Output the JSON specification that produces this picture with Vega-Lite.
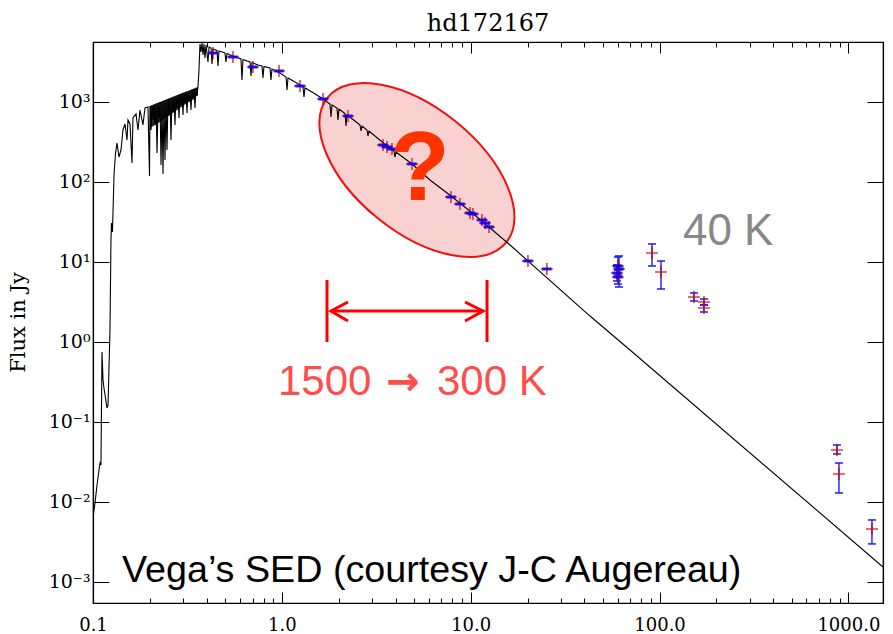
{
  "$schema": "https://vega.github.io/schema/vega-lite/v6.json",
  "width": 790,
  "height": 561,
  "autosize": {"type": "none"},
  "padding": {"left": 93, "top": 42, "right": 10, "bottom": 31},
  "background": "white",
  "config": {
    "view": {"stroke": "black", "strokeWidth": 1.2},
    "axis": {"grid": false, "domainColor": "black", "tickColor": "black", "labelColor": "black", "domainWidth": 1.2, "tickWidth": 1}
  },
  "title": {"text": "hd172167", "font": "DejaVu Serif", "fontSize": 24, "fontWeight": "normal", "anchor": "middle", "baseline": "alphabetic", "offset": 12, "dy": 25, "frame": "group", "color": "black"},
  "resolve": {"axis": {"x": "independent", "y": "independent"}},
  "datasets": {
    "spec": [
      {"wl": 0.1, "flux": 0.0065}, {"wl": 0.1025, "flux": 0.0097}, {"wl": 0.105, "flux": 0.0163}, {"wl": 0.1089, "flux": 0.0307},
      {"wl": 0.1102, "flux": 0.029}, {"wl": 0.1116, "flux": 0.75}, {"wl": 0.113, "flux": 0.335}, {"wl": 0.1143, "flux": 0.266},
      {"wl": 0.1186, "flux": 0.15}, {"wl": 0.1201, "flux": 0.163}, {"wl": 0.123, "flux": 1.41}, {"wl": 0.1245, "flux": 18.8},
      {"wl": 0.1253, "flux": 30.7}, {"wl": 0.1268, "flux": 23.7}, {"wl": 0.1292, "flux": 122}, {"wl": 0.1316, "flux": 230},
      {"wl": 0.134, "flux": 307}, {"wl": 0.1373, "flux": 205}, {"wl": 0.1407, "flux": 251}, {"wl": 0.1441, "flux": 447},
      {"wl": 0.1477, "flux": 531}, {"wl": 0.1514, "flux": 335}, {"wl": 0.1532, "flux": 596}, {"wl": 0.157, "flux": 531},
      {"wl": 0.1609, "flux": 173}, {"wl": 0.1628, "flux": 631}, {"wl": 0.169, "flux": 708}, {"wl": 0.1731, "flux": 447},
      {"wl": 0.1774, "flux": 794}, {"wl": 0.1839, "flux": 516}, {"wl": 0.1885, "flux": 841}, {"wl": 0.1955, "flux": 866},
      {"wl": 0.1992, "flux": 119}, {"wl": 0.2003, "flux": 891}, {"wl": 0.2028, "flux": 447}, {"wl": 0.2053, "flux": 912},
      {"wl": 0.2078, "flux": 596}, {"wl": 0.2104, "flux": 933}, {"wl": 0.213, "flux": 516}, {"wl": 0.2157, "flux": 955},
      {"wl": 0.2183, "flux": 230}, {"wl": 0.221, "flux": 977}, {"wl": 0.2237, "flux": 631}, {"wl": 0.2264, "flux": 1000},
      {"wl": 0.2292, "flux": 163}, {"wl": 0.232, "flux": 1023}, {"wl": 0.2348, "flux": 126}, {"wl": 0.2376, "flux": 1044},
      {"wl": 0.2406, "flux": 188}, {"wl": 0.2435, "flux": 1069}, {"wl": 0.2465, "flux": 251}, {"wl": 0.2495, "flux": 1094},
      {"wl": 0.2526, "flux": 688}, {"wl": 0.2557, "flux": 1119}, {"wl": 0.2588, "flux": 335}, {"wl": 0.262, "flux": 1145},
      {"wl": 0.2652, "flux": 750}, {"wl": 0.2685, "flux": 1172}, {"wl": 0.2717, "flux": 516}, {"wl": 0.2751, "flux": 1199},
      {"wl": 0.2784, "flux": 841}, {"wl": 0.2819, "flux": 1227}, {"wl": 0.2853, "flux": 631}, {"wl": 0.2888, "flux": 1256},
      {"wl": 0.2924, "flux": 918}, {"wl": 0.296, "flux": 1285}, {"wl": 0.2996, "flux": 688}, {"wl": 0.3032, "flux": 1315},
      {"wl": 0.307, "flux": 972}, {"wl": 0.3107, "flux": 1346}, {"wl": 0.3146, "flux": 729}, {"wl": 0.3184, "flux": 1372},
      {"wl": 0.3223, "flux": 1000}, {"wl": 0.3262, "flux": 1404}, {"wl": 0.3302, "flux": 794}, {"wl": 0.3343, "flux": 1437},
      {"wl": 0.3384, "flux": 1059}, {"wl": 0.3425, "flux": 1471}, {"wl": 0.3467, "flux": 841}, {"wl": 0.351, "flux": 1505},
      {"wl": 0.3553, "flux": 1189}, {"wl": 0.3597, "flux": 1540}, {"wl": 0.3641, "flux": 2512}, {"wl": 0.3686, "flux": 5309},
      {"wl": 0.373, "flux": 4217}, {"wl": 0.3777, "flux": 5464}, {"wl": 0.3823, "flux": 3868}, {"wl": 0.387, "flux": 5309},
      {"wl": 0.3918, "flux": 3548}, {"wl": 0.3966, "flux": 5158}, {"wl": 0.4064, "flux": 3162}, {"wl": 0.4114, "flux": 4870},
      {"wl": 0.4216, "flux": 4732}, {"wl": 0.4268, "flux": 2985}, {"wl": 0.4318, "flux": 4597}, {"wl": 0.4534, "flux": 4404},
      {"wl": 0.459, "flux": 2818}, {"wl": 0.4646, "flux": 4340}, {"wl": 0.4999, "flux": 4097}, {"wl": 0.5061, "flux": 3162},
      {"wl": 0.5123, "flux": 4038}, {"wl": 0.551, "flux": 3758}, {"wl": 0.6075, "flux": 3447}, {"wl": 0.615, "flux": 1884},
      {"wl": 0.6225, "flux": 3399}, {"wl": 0.6783, "flux": 3162}, {"wl": 0.6866, "flux": 2113}, {"wl": 0.6949, "flux": 3117},
      {"wl": 0.7475, "flux": 2901}, {"wl": 0.7848, "flux": 2818}, {"wl": 0.7945, "flux": 1995}, {"wl": 0.804, "flux": 2778},
      {"wl": 0.8653, "flux": 2661}, {"wl": 0.8759, "flux": 1884}, {"wl": 0.8866, "flux": 2585}, {"wl": 0.9775, "flux": 2304},
      {"wl": 1.052, "flux": 2054}, {"wl": 1.065, "flux": 1413}, {"wl": 1.078, "flux": 1995}, {"wl": 1.174, "flux": 1778},
      {"wl": 1.248, "flux": 1632}, {"wl": 1.294, "flux": 1540}, {"wl": 1.31, "flux": 1155}, {"wl": 1.326, "flux": 1496},
      {"wl": 1.444, "flux": 1334}, {"wl": 1.592, "flux": 1155}, {"wl": 1.652, "flux": 1090}, {"wl": 1.798, "flux": 944},
      {"wl": 1.82, "flux": 649}, {"wl": 1.843, "flux": 918}, {"wl": 1.959, "flux": 841}, {"wl": 1.983, "flux": 596},
      {"wl": 2.007, "flux": 817}, {"wl": 2.16, "flux": 718}, {"wl": 2.187, "flux": 501}, {"wl": 2.213, "flux": 688},
      {"wl": 2.44, "flux": 579}, {"wl": 2.593, "flux": 516}, {"wl": 2.625, "flux": 434}, {"wl": 2.658, "flux": 501},
      {"wl": 2.824, "flux": 447}, {"wl": 2.859, "flux": 376}, {"wl": 2.894, "flux": 434}, {"wl": 3.605, "flux": 282},
      {"wl": 3.925, "flux": 244}, {"wl": 3.973, "flux": 205}, {"wl": 4.022, "flux": 237}, {"wl": 4.888, "flux": 168},
      {"wl": 6.088, "flux": 106}, {"wl": 7.865, "flux": 66.8}, {"wl": 10.04, "flux": 42.2}, {"wl": 12.5, "flux": 27.4},
      {"wl": 16.15, "flux": 16.3}, {"wl": 42.83, "flux": 2.11}, {"wl": 69.76, "flux": 0.794}, {"wl": 1525, "flux": 0.00154}
    ],
    "band": [
      {"wl": 0.2003, "lo": 473, "hi": 891}, {"wl": 0.2264, "lo": 562, "hi": 1000}, {"wl": 0.2557, "lo": 688, "hi": 1119},
      {"wl": 0.2888, "lo": 841, "hi": 1256}, {"wl": 0.3262, "lo": 1029, "hi": 1404}, {"wl": 0.3597, "lo": 1223, "hi": 1540}
    ],
    "phot": [
      {"wl": 0.432, "flux": 4097, "lo": 4097, "hi": 4097}, {"wl": 0.551, "flux": 3652, "lo": 3652, "hi": 3652},
      {"wl": 0.703, "flux": 2738, "lo": 2738, "hi": 2738}, {"wl": 0.966, "flux": 2441, "lo": 2441, "hi": 2441},
      {"wl": 1.248, "flux": 1585, "lo": 1585, "hi": 1585}, {"wl": 1.652, "flux": 1090, "lo": 1090, "hi": 1090},
      {"wl": 2.24, "flux": 668, "lo": 668, "hi": 668}, {"wl": 3.433, "flux": 290, "lo": 290, "hi": 290},
      {"wl": 3.605, "flux": 274, "lo": 274, "hi": 274}, {"wl": 3.83, "flux": 258, "lo": 258, "hi": 258},
      {"wl": 4.888, "flux": 168, "lo": 168, "hi": 168}, {"wl": 7.865, "flux": 64.9, "lo": 64.9, "hi": 64.9},
      {"wl": 8.776, "flux": 53.1, "lo": 53.1, "hi": 53.1}, {"wl": 9.913, "flux": 41.0, "lo": 41.0, "hi": 41.0},
      {"wl": 10.28, "flux": 39.8, "lo": 39.8, "hi": 39.8}, {"wl": 11.48, "flux": 33.5, "lo": 33.5, "hi": 33.5},
      {"wl": 11.9, "flux": 30.7, "lo": 30.7, "hi": 30.7}, {"wl": 12.5, "flux": 27.4, "lo": 27.4, "hi": 27.4},
      {"wl": 20.1, "flux": 10.3, "lo": 10.3, "hi": 10.3}, {"wl": 25.3, "flux": 8.18, "lo": 8.18, "hi": 8.18},
      {"wl": 60.2, "flux": 8.91, "lo": 6.88, "hi": 11.55}, {"wl": 61.0, "flux": 8.18, "lo": 4.87, "hi": 11.89},
      {"wl": 59.5, "flux": 7.29, "lo": 5.79, "hi": 9.17}, {"wl": 60.2, "flux": 6.49, "lo": 5.31, "hi": 7.94},
      {"wl": 91.2, "flux": 12.96, "lo": 8.91, "hi": 16.8}, {"wl": 101.8, "flux": 7.5, "lo": 4.6, "hi": 10.29},
      {"wl": 152.2, "flux": 3.65, "lo": 3.25, "hi": 4.1}, {"wl": 171.9, "flux": 3.16, "lo": 2.9, "hi": 3.45},
      {"wl": 171.9, "flux": 2.66, "lo": 2.37, "hi": 2.9}, {"wl": 869.9, "flux": 0.0447, "lo": 0.0398, "hi": 0.0516},
      {"wl": 891, "flux": 0.0224, "lo": 0.01296, "hi": 0.0307}, {"wl": 1333, "flux": 0.0046, "lo": 0.00299, "hi": 0.00596}
    ]
  },
  "layer": [
    {
      "data": {"values": [{"wl": 5.19, "flux": 141}]},
      "mark": {"type": "point", "shape": "M1,0C1,0.2982,0.5523,0.54,0,0.54C-0.5523,0.54,-1,0.2982,-1,0C-1,-0.2982,-0.5523,-0.54,0,-0.54C0.5523,-0.54,1,-0.2982,1,0Z", "size": 52900, "angle": 39, "filled": true, "fill": "#f08080", "fillOpacity": 0.36, "stroke": "#ee1111", "strokeWidth": 2, "strokeOpacity": 1, "opacity": 1},
      "encoding": {
        "x": {"field": "wl", "type": "quantitative", "scale": {"type": "log", "domain": [0.1, 1525], "nice": false},
          "axis": {"orient": "bottom", "title": null,
            "values": [0.1,0.2,0.3,0.4,0.5,0.6,0.7,0.8,0.9,1,2,3,4,5,6,7,8,9,10,20,30,40,50,60,70,80,90,100,200,300,400,500,600,700,800,900,1000],
            "labelExpr": "datum.value == 0.1 ? '0.1' : datum.value == 1 ? '1.0' : datum.value == 10 ? '10.0' : datum.value == 100 ? '100.0' : datum.value == 1000 ? '1000.0' : ''",
            "tickSize": {"condition": {"test": "indexof([0.1,1,10,100,1000], datum.value) >= 0", "value": -11}, "value": -5},
            "labelFont": "DejaVu Serif", "labelFontSize": 18, "labelPadding": 24, "labelFlush": false, "labelOverlap": false, "labelBound": false}},
        "y": {"field": "flux", "type": "quantitative", "scale": {"type": "log", "domain": [0.000546, 5623], "nice": false},
          "axis": {"orient": "left", "values": [0.001, 0.01, 0.1, 1, 10, 100, 1000],
            "labelExpr": "datum.value >= 999 ? '10³' : datum.value >= 99 ? '10²' : datum.value >= 9 ? '10¹' : datum.value >= 0.9 ? '10⁰' : datum.value >= 0.09 ? '10⁻¹' : datum.value >= 0.009 ? '10⁻²' : '10⁻³'",
            "tickSize": -16, "labelPadding": 19, "labelFont": "DejaVu Serif", "labelFontSize": 19,
            "title": "Flux in Jy", "titleFont": "DejaVu Serif", "titleFontSize": 21, "titleFontWeight": "normal",
            "titleX": -75, "titleY": 280, "titleAngle": -90, "titleAlign": "center", "titleBaseline": "middle"}}
      }
    },
    {
      "data": {"name": "band"},
      "mark": {"type": "area", "color": "black", "opacity": 0.85},
      "encoding": {
        "x": {"field": "wl", "type": "quantitative", "axis": null},
        "y": {"field": "lo", "type": "quantitative", "axis": null},
        "y2": {"field": "hi"}
      }
    },
    {
      "data": {"name": "spec"},
      "mark": {"type": "line", "color": "black", "strokeWidth": 1.1, "clip": true},
      "encoding": {
        "x": {"field": "wl", "type": "quantitative", "scale": {"type": "log", "domain": [0.1, 1525], "nice": false},
          "axis": {"orient": "top", "title": null, "labels": false,
            "values": [0.1,0.2,0.3,0.4,0.5,0.6,0.7,0.8,0.9,1,2,3,4,5,6,7,8,9,10,20,30,40,50,60,70,80,90,100,200,300,400,500,600,700,800,900,1000],
            "tickSize": {"condition": {"test": "indexof([0.1,1,10,100,1000], datum.value) >= 0", "value": -11}, "value": -5}}},
        "y": {"field": "flux", "type": "quantitative", "scale": {"type": "log", "domain": [0.000546, 5623], "nice": false},
          "axis": {"orient": "right", "title": null, "labels": false, "values": [0.001, 0.01, 0.1, 1, 10, 100, 1000], "tickSize": -16}}
      }
    },
    {
      "data": {"name": "phot"},
      "transform": [{"filter": "datum.hi > datum.lo"}],
      "mark": {"type": "rule", "color": "#1a1aff", "strokeWidth": 1.4},
      "encoding": {
        "x": {"field": "wl", "type": "quantitative", "axis": null},
        "y": {"field": "lo", "type": "quantitative", "axis": null},
        "y2": {"field": "hi"}
      }
    },
    {
      "data": {"name": "phot"},
      "transform": [{"filter": "datum.hi > datum.lo"}],
      "mark": {"type": "point", "shape": "M-1,0L1,0", "size": 64, "filled": false, "stroke": "#1a1aff", "strokeWidth": 1.5, "opacity": 1},
      "encoding": {
        "x": {"field": "wl", "type": "quantitative", "axis": null},
        "y": {"field": "lo", "type": "quantitative", "axis": null}
      }
    },
    {
      "data": {"name": "phot"},
      "transform": [{"filter": "datum.hi > datum.lo"}],
      "mark": {"type": "point", "shape": "M-1,0L1,0", "size": 64, "filled": false, "stroke": "#1a1aff", "strokeWidth": 1.5, "opacity": 1},
      "encoding": {
        "x": {"field": "wl", "type": "quantitative", "axis": null},
        "y": {"field": "hi", "type": "quantitative", "axis": null}
      }
    },
    {
      "data": {"name": "phot"},
      "mark": {"type": "point", "shape": "M-1,0L1,0M0,-1L0,1", "size": 144, "filled": false, "stroke": "#d00000", "strokeWidth": 1.6, "strokeOpacity": 0.75, "opacity": 1},
      "encoding": {
        "x": {"field": "wl", "type": "quantitative", "axis": null},
        "y": {"field": "flux", "type": "quantitative", "axis": null}
      }
    },
    {
      "data": {"name": "phot"},
      "transform": [{"filter": "datum.wl < 70"}],
      "mark": {"type": "point", "shape": "M-1,0L1,0", "size": 90, "filled": false, "stroke": "#0000ff", "strokeWidth": 3, "strokeOpacity": 0.85, "opacity": 1},
      "encoding": {
        "x": {"field": "wl", "type": "quantitative", "axis": null},
        "y": {"field": "flux", "type": "quantitative", "axis": null}
      }
    },
    {
      "data": {"values": [{"wl": 1.734, "lo": 1.0, "hi": 5.96}, {"wl": 12.2, "lo": 1.0, "hi": 5.96}]},
      "mark": {"type": "rule", "color": "#ff0000", "strokeWidth": 3},
      "encoding": {
        "x": {"field": "wl", "type": "quantitative", "axis": null},
        "y": {"field": "lo", "type": "quantitative", "axis": null},
        "y2": {"field": "hi"}
      }
    },
    {
      "data": {"values": [{"wl": 1.82, "wl2": 11.76, "flux": 2.44}]},
      "mark": {"type": "rule", "color": "#ff0000", "strokeWidth": 3},
      "encoding": {
        "x": {"field": "wl", "type": "quantitative", "axis": null},
        "x2": {"field": "wl2"},
        "y": {"field": "flux", "type": "quantitative", "axis": null}
      }
    },
    {
      "data": {"values": [
        {"g": "L", "o": 0, "wl": 2.24, "flux": 3.16}, {"g": "L", "o": 1, "wl": 1.82, "flux": 2.44}, {"g": "L", "o": 2, "wl": 2.24, "flux": 1.83},
        {"g": "R", "o": 0, "wl": 9.33, "flux": 3.16}, {"g": "R", "o": 1, "wl": 11.61, "flux": 2.44}, {"g": "R", "o": 2, "wl": 9.33, "flux": 1.83}
      ]},
      "mark": {"type": "line", "color": "#ff0000", "strokeWidth": 3},
      "encoding": {
        "x": {"field": "wl", "type": "quantitative", "axis": null},
        "y": {"field": "flux", "type": "quantitative", "axis": null},
        "detail": {"field": "g"},
        "order": {"field": "o"}
      }
    },
    {
      "data": {"values": [{"wl": 5.389, "flux": 59.6, "label": "?"}]},
      "mark": {"type": "text", "font": "Liberation Sans", "fontWeight": "bold", "fontSize": 98, "color": "#ff3300", "align": "center", "baseline": "alphabetic"},
      "encoding": {
        "x": {"field": "wl", "type": "quantitative", "axis": null},
        "y": {"field": "flux", "type": "quantitative", "axis": null},
        "text": {"field": "label"}
      }
    },
    {
      "data": {"values": [{"wl": 133, "flux": 16.3, "label": "40 K"}]},
      "mark": {"type": "text", "font": "Liberation Sans", "fontSize": 44, "color": "#888888", "align": "left", "baseline": "alphabetic"},
      "encoding": {
        "x": {"field": "wl", "type": "quantitative", "axis": null},
        "y": {"field": "flux", "type": "quantitative", "axis": null},
        "text": {"field": "label"}
      }
    },
    {
      "data": {"values": [{"wl": 0.954, "flux": 0.2175, "label": "1500"}, {"wl": 6.63, "flux": 0.2175, "label": "300 K"}]},
      "mark": {"type": "text", "font": "Liberation Sans", "fontSize": 42, "color": "#ff4d4d", "align": "left", "baseline": "alphabetic"},
      "encoding": {
        "x": {"field": "wl", "type": "quantitative", "axis": null},
        "y": {"field": "flux", "type": "quantitative", "axis": null},
        "text": {"field": "label"}
      }
    },
    {
      "data": {"values": [{"wl": 4.38, "flux": 0.2175, "label": "→"}]},
      "mark": {"type": "text", "font": "DejaVu Sans", "fontWeight": "bold", "fontSize": 40, "color": "#ff4d4d", "align": "center", "baseline": "alphabetic"},
      "encoding": {
        "x": {"field": "wl", "type": "quantitative", "axis": null},
        "y": {"field": "flux", "type": "quantitative", "axis": null},
        "text": {"field": "label"}
      }
    },
    {
      "data": {"values": [{"wl": 0.1424, "flux": 0.001, "label": "Vega’s SED (courtesy J-C Augereau)"}]},
      "mark": {"type": "text", "font": "Liberation Sans", "fontSize": 37.7, "color": "black", "align": "left", "baseline": "alphabetic"},
      "encoding": {
        "x": {"field": "wl", "type": "quantitative", "axis": null},
        "y": {"field": "flux", "type": "quantitative", "axis": null},
        "text": {"field": "label"}
      }
    }
  ]
}
